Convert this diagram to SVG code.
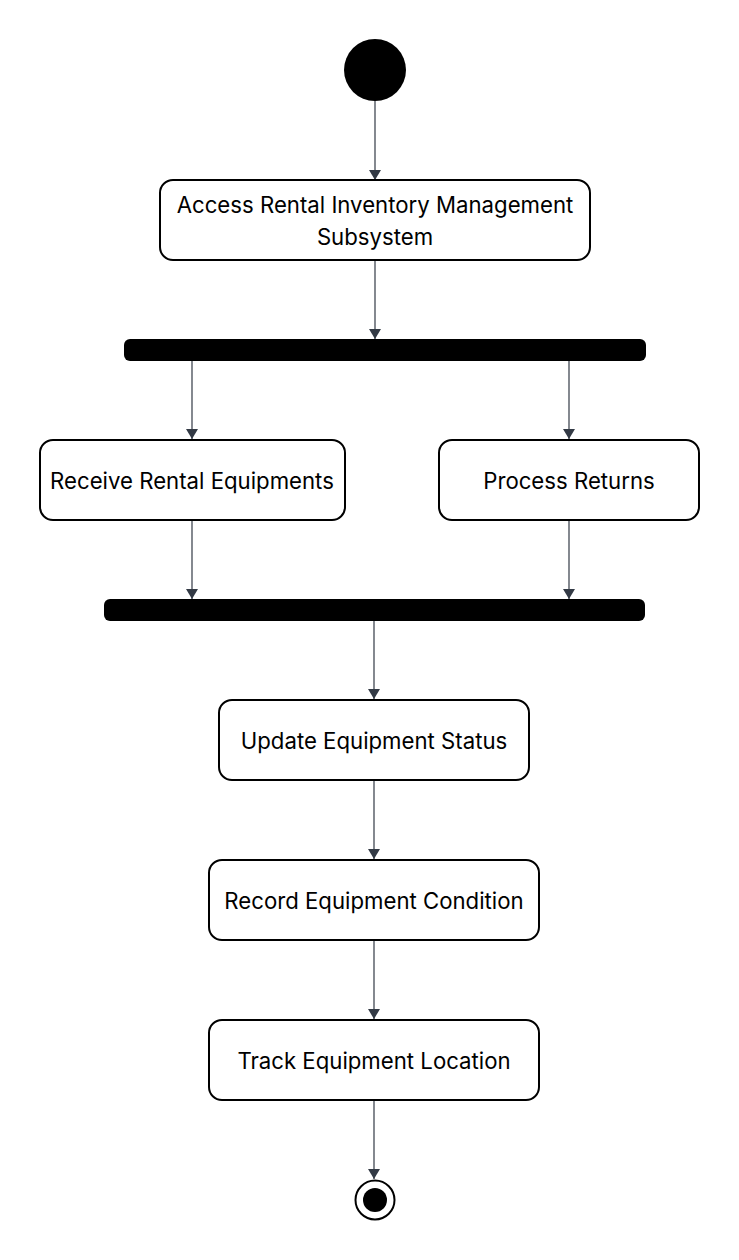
<svg xmlns="http://www.w3.org/2000/svg" width="739" height="1260" viewBox="0 0 739 1260">
<defs>
<style>
.node rect{fill:#fff;stroke:#000;stroke-width:2}
.node text{font-family:Inter,"Liberation Sans",sans-serif;font-size:22.2px;fill:#000;text-anchor:middle;dominant-baseline:central}
.bar{fill:#000}
.edges line{stroke:#333a45;stroke-width:1.2;marker-end:url(#arr)}
</style>
<marker id="arr" viewBox="0 0 10 12" refX="10" refY="6" markerWidth="10" markerHeight="12" markerUnits="userSpaceOnUse" orient="auto">
<path d="M0,0 L10,6 L0,12 z" fill="#333a45"/>
</marker>
</defs>
<rect width="739" height="1260" fill="#fff"/>
<g class="edges">
<line x1="375" y1="101" x2="375" y2="180"/>
<line x1="375" y1="260" x2="375" y2="339"/>
<line x1="192" y1="360" x2="192" y2="439"/>
<line x1="569" y1="360" x2="569" y2="439"/>
<line x1="192" y1="520" x2="192" y2="599"/>
<line x1="569" y1="520" x2="569" y2="599"/>
<line x1="374" y1="620" x2="374" y2="699"/>
<line x1="374" y1="780" x2="374" y2="859"/>
<line x1="374" y1="940" x2="374" y2="1019"/>
<line x1="374" y1="1100" x2="374" y2="1179"/>
</g>
<g id="start"><circle cx="375" cy="70" r="31" fill="#000"/></g>
<g id="n1" class="node"><rect x="160" y="180" width="430" height="80" rx="13"/><text x="375" y="204">Access Rental Inventory Management</text><text x="375" y="236">Subsystem</text></g>
<g id="fork"><rect class="bar" x="124" y="339" width="522" height="22" rx="6"/></g>
<g id="n2" class="node"><rect x="40" y="440" width="305" height="80" rx="13"/><text x="192" y="480">Receive Rental Equipments</text></g>
<g id="n3" class="node"><rect x="439" y="440" width="260" height="80" rx="13"/><text x="569" y="480">Process Returns</text></g>
<g id="join"><rect class="bar" x="104" y="599" width="541" height="22" rx="6"/></g>
<g id="n4" class="node"><rect x="219" y="700" width="310" height="80" rx="13"/><text x="374" y="740">Update Equipment Status</text></g>
<g id="n5" class="node"><rect x="209" y="860" width="330" height="80" rx="13"/><text x="374" y="900">Record Equipment Condition</text></g>
<g id="n6" class="node"><rect x="209" y="1020" width="330" height="80" rx="13"/><text x="374" y="1060">Track Equipment Location</text></g>
<g id="end"><circle cx="375" cy="1200" r="19.5" fill="#fff" stroke="#000" stroke-width="2"/><circle cx="375" cy="1200" r="12" fill="#000"/></g>
</svg>
